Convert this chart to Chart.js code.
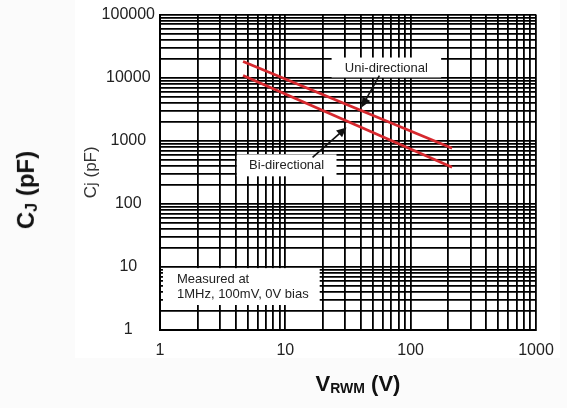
<!DOCTYPE html>
<html><head><meta charset="utf-8">
<script src="https://cdn.jsdelivr.net/npm/chart.js@4.4.0/dist/chart.umd.min.js"></script>
<style>
html,body{margin:0;padding:0;background:#fbfbfb;}
#wrap{position:relative;width:567px;height:408px;overflow:hidden;}
#panel{position:absolute;left:75px;top:0;width:485px;height:358px;background:#fff;}
canvas{position:absolute;left:0;top:0;}
.t{position:absolute;font-family:'Liberation Sans',Arial,sans-serif;font-weight:bold;font-size:22px;color:#111;white-space:nowrap;line-height:1;}
.t .s{font-size:14px;vertical-align:-0.2em;}
#ytitle{left:27px;top:190px;font-size:24px;transform:translate(-50%,-50%) rotate(-90deg);}
#ytitle .s{font-size:16px;}
#xtitle{left:358px;top:384px;transform:translate(-50%,-50%);}
</style></head>
<body><div id="wrap"><div id="panel"></div><canvas id="c" width="567" height="408"></canvas>
<div class="t" id="ytitle">C<span class="s">J</span> (pF)</div>
<div class="t" id="xtitle">V<span class="s">RWM</span> (V)</div></div>
<script>
// ---- data ----
const VOLTAGE = [4.6, 214];
const UNI_CJ = [18000, 760];
const BI_CJ = [10800, 380];
const X_TICKS = [1, 10, 100, 1000];
const X_TICK_LABELS = ['1', '10', '100', '1000'];
const Y_TICKS = [1, 10, 100, 1000, 10000, 100000];
const Y_TICK_LABELS = ['1', '10', '100', '1000', '10000', '100000'];
const NOTE_LABELS = ['Uni-directional', 'Bi-directional', 'Measured at', '1MHz, 100mV, 0V bias'];

const FONT = "'Liberation Sans', Arial, sans-serif";
const RED = '#d6282e';

function logTicks(min, max) {
  const out = [];
  const d0 = Math.round(Math.log10(min)), d1 = Math.round(Math.log10(max));
  for (let d = d0; d < d1; d++) {
    for (let k = 1; k <= 9; k++) out.push({value: Math.round(k * Math.pow(10, d))});
  }
  out.push({value: max});
  return out;
}

const notePlugin = {
  id: 'notes',
  afterDatasetsDraw(chart) {
    const c = chart.ctx, xs = chart.scales.x, ys = chart.scales.y;
    const px = v => xs.getPixelForValue(v), py = v => ys.getPixelForValue(v);
    function box(x0, x1, y0, y1) {
      const l = px(x0), r = px(x1), t = py(y0), b = py(y1);
      c.fillStyle = '#fff';
      c.fillRect(l, t, r - l, b - t);
      return {l, r, t, b};
    }
    function arrow(xa, ya, xb, yb) {
      const x1 = px(xa), y1 = py(ya), x2 = px(xb), y2 = py(yb);
      const ang = Math.atan2(y2 - y1, x2 - x1);
      const L = 10, W = 4.5;
      c.strokeStyle = '#111'; c.lineWidth = 1.6;
      c.beginPath(); c.moveTo(x1, y1);
      c.lineTo(x2 - Math.cos(ang) * L * 0.8, y2 - Math.sin(ang) * L * 0.8); c.stroke();
      c.fillStyle = '#111';
      c.beginPath();
      c.moveTo(x2, y2);
      c.lineTo(x2 - Math.cos(ang) * L - Math.sin(ang) * W, y2 - Math.sin(ang) * L + Math.cos(ang) * W);
      c.lineTo(x2 - Math.cos(ang) * L + Math.sin(ang) * W, y2 - Math.sin(ang) * L - Math.cos(ang) * W);
      c.closePath(); c.fill();
    }
    c.save();
    c.font = '13px ' + FONT;
    c.textBaseline = 'middle';
    // Uni-directional
    let b = box(23.4, 175, 20870, 10074);
    c.fillStyle = '#222'; c.textAlign = 'center';
    c.fillText(NOTE_LABELS[0], (b.l + b.r) / 2, (b.t + b.b) / 2 + 0.5);
    arrow(56.3, 10800, 40.5, 3375);
    // Bi-directional
    b = box(4.1, 25.6, 609, 273);
    c.fillStyle = '#222'; c.textAlign = 'center';
    c.fillText(NOTE_LABELS[1], (b.l + b.r) / 2, (b.t + b.b) / 2);
    arrow(16.5, 546, 30.8, 1630);
    // Measured at
    b = box(1.056, 18.8, 9.57, 2.49);
    c.fillStyle = '#222'; c.textAlign = 'left';
    const cy = (b.t + b.b) / 2;
    c.fillText(NOTE_LABELS[2], b.l + 14, cy - 7);
    c.fillText(NOTE_LABELS[3], b.l + 14, cy + 8);
    c.restore();
  }
};

function labelFor(ticks, labels) {
  return v => { const i = ticks.indexOf(v); return i >= 0 ? labels[i] : ''; };
}

const gridOpts = {color: '#000', lineWidth: 1.8, drawTicks: false};
const borderOpts = {display: true, color: '#000', width: 2};

new Chart(document.getElementById('c'), {
  type: 'line',
  data: {
    datasets: [
      {label: NOTE_LABELS[0], data: VOLTAGE.map((v, i) => ({x: v, y: UNI_CJ[i]})),
       borderColor: RED, borderWidth: 2.8, pointRadius: 0, tension: 0, fill: false},
      {label: NOTE_LABELS[1], data: VOLTAGE.map((v, i) => ({x: v, y: BI_CJ[i]})),
       borderColor: RED, borderWidth: 2.8, pointRadius: 0, tension: 0, fill: false}
    ]
  },
  options: {
    responsive: false, animation: false, devicePixelRatio: 1,
    layout: {padding: {left: 0, top: 14, right: 31, bottom: 0}},
    plugins: {legend: {display: false}, tooltip: {enabled: false}},
    scales: {
      x: {
        type: 'logarithmic', min: 1, max: 1000,
        afterBuildTicks: s => { s.ticks = logTicks(1, 1000); },
        afterFit: s => { s.height = 78; },
        grid: gridOpts, border: borderOpts,
        ticks: {autoSkip: false, maxRotation: 0, padding: 11, color: '#222',
                font: {family: FONT, size: 16}, callback: labelFor(X_TICKS, X_TICK_LABELS)}
      },
      y: {
        type: 'logarithmic', min: 1, max: 100000,
        afterBuildTicks: s => { s.ticks = logTicks(1, 100000); },
        afterFit: s => { s.width = 160; },
        grid: gridOpts, border: borderOpts,
        title: {display: true, text: 'Cj (pF)', color: '#333', font: {family: FONT, size: 17},
                padding: {top: 81, bottom: 0}},
        ticks: {autoSkip: false, crossAlign: 'center', padding: 5, color: '#222',
                font: {family: FONT, size: 16}, callback: labelFor(Y_TICKS, Y_TICK_LABELS)}
      }
    }
  },
  plugins: [notePlugin]
});
</script>
</body></html>
